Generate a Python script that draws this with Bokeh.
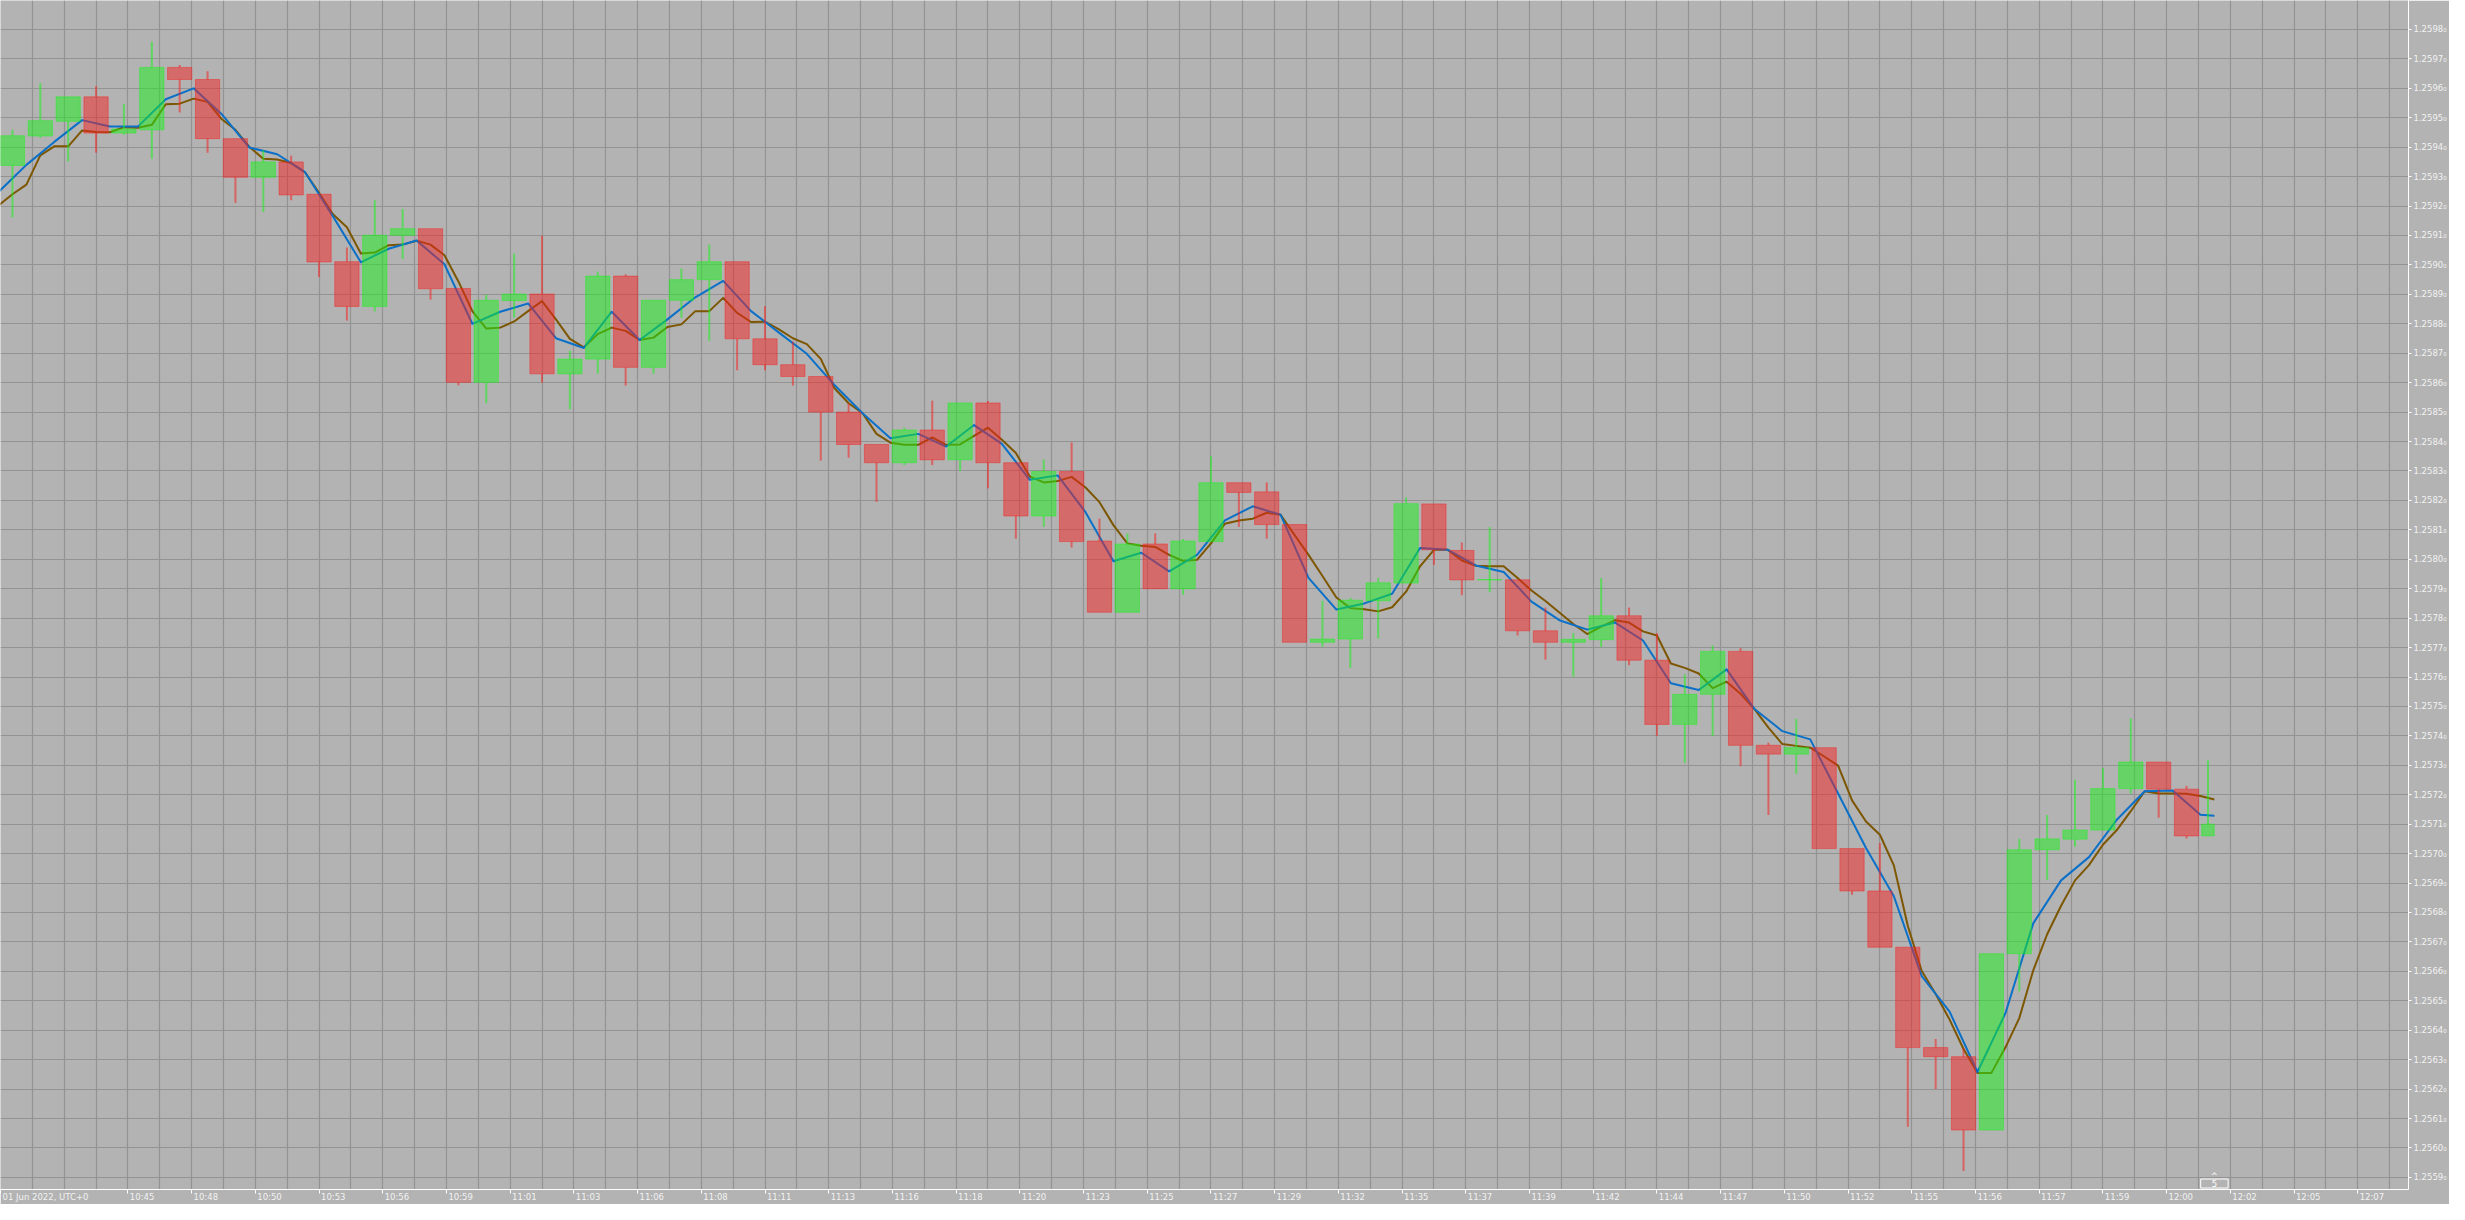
from bokeh.plotting import figure
from bokeh.models import (Range1d, LinearAxis, FixedTicker, CustomJSTickFormatter,
                          Grid, ColumnDataSource, Label)
from bokeh.embed import file_html
from bokeh.resources import INLINE

# ---------------- data (1-minute candles) ----------------
opens = [1.259338, 1.259438, 1.259488, 1.259571, 1.259448, 1.259459, 1.259671, 1.259630, 1.259429, 1.259298,
         1.259350, 1.259240, 1.259011, 1.258859, 1.259101, 1.259123, 1.258920, 1.258601, 1.258879, 1.258901,
         1.258630, 1.258680, 1.258962, 1.258652, 1.258880, 1.258950, 1.259011, 1.258749, 1.258661, 1.258621,
         1.258500, 1.258390, 1.258328, 1.258439, 1.258338, 1.258531, 1.258328, 1.258147, 1.258298, 1.258062,
         1.257820, 1.258052, 1.257900, 1.258060, 1.258260, 1.258229, 1.258118, 1.257718, 1.257729, 1.257859,
         1.257919, 1.258188, 1.258030, 1.257930, 1.257930, 1.257757, 1.257718, 1.257727, 1.257808, 1.257657,
         1.257439, 1.257541, 1.257687, 1.257368, 1.257338, 1.257360, 1.257017, 1.256873, 1.256682, 1.256341,
         1.256310, 1.256061, 1.256660, 1.257013, 1.257049, 1.257080, 1.257221, 1.257311, 1.257219, 1.257060]
highs = [1.259459, 1.259617, 1.259571, 1.259607, 1.259547, 1.259758, 1.259679, 1.259658, 1.259429, 1.259390,
         1.259371, 1.259240, 1.259059, 1.259220, 1.259190, 1.259123, 1.258920, 1.258899, 1.259038, 1.259099,
         1.258709, 1.258977, 1.258968, 1.258880, 1.258988, 1.259069, 1.259011, 1.258860, 1.258740, 1.258621,
         1.258530, 1.258390, 1.258447, 1.258539, 1.258531, 1.258538, 1.258328, 1.258339, 1.258397, 1.258138,
         1.258088, 1.258088, 1.258069, 1.258350, 1.258260, 1.258261, 1.258118, 1.257859, 1.257868, 1.257937,
         1.258210, 1.258188, 1.258057, 1.258109, 1.257930, 1.257836, 1.257749, 1.257936, 1.257836, 1.257749,
         1.257609, 1.257707, 1.257698, 1.257377, 1.257458, 1.257360, 1.257017, 1.257036, 1.256682, 1.256370,
         1.256339, 1.256660, 1.257050, 1.257131, 1.257251, 1.257291, 1.257459, 1.257311, 1.257230, 1.257317]
lows = [1.259161, 1.259432, 1.259351, 1.259381, 1.259442, 1.259361, 1.259518, 1.259381, 1.259210, 1.259180,
        1.259220, 1.258959, 1.258811, 1.258842, 1.259020, 1.258882, 1.258591, 1.258530, 1.258821, 1.258600,
        1.258510, 1.258630, 1.258590, 1.258630, 1.258821, 1.258742, 1.258642, 1.258642, 1.258590, 1.258335,
        1.258345, 1.258195, 1.258320, 1.258320, 1.258300, 1.258241, 1.258070, 1.258110, 1.258040, 1.257820,
        1.257820, 1.257900, 1.257879, 1.258060, 1.258110, 1.258070, 1.257718, 1.257703, 1.257631, 1.257731,
        1.257919, 1.257981, 1.257878, 1.257888, 1.257741, 1.257659, 1.257601, 1.257702, 1.257640, 1.257400,
        1.257308, 1.257400, 1.257297, 1.257131, 1.257271, 1.257017, 1.256860, 1.256682, 1.256072, 1.256200,
        1.255922, 1.256061, 1.256532, 1.256911, 1.257023, 1.257080, 1.257204, 1.257122, 1.257051, 1.257060]
closes = [1.259439, 1.259490, 1.259571, 1.259448, 1.259462, 1.259671, 1.259630, 1.259429, 1.259298, 1.259350,
          1.259238, 1.259010, 1.258859, 1.259101, 1.259123, 1.258919, 1.258601, 1.258880, 1.258901, 1.258630,
          1.258680, 1.258962, 1.258652, 1.258880, 1.258950, 1.259011, 1.258749, 1.258661, 1.258621, 1.258500,
          1.258390, 1.258328, 1.258439, 1.258338, 1.258531, 1.258328, 1.258147, 1.258298, 1.258060, 1.257820,
          1.258052, 1.257900, 1.258062, 1.258260, 1.258227, 1.258118, 1.257718, 1.257729, 1.257861, 1.257920,
          1.258189, 1.258032, 1.257930, 1.257931, 1.257757, 1.257718, 1.257728, 1.257808, 1.257657, 1.257439,
          1.257541, 1.257687, 1.257368, 1.257338, 1.257360, 1.257017, 1.256873, 1.256682, 1.256341, 1.256310,
          1.256061, 1.256660, 1.257013, 1.257050, 1.257080, 1.257221, 1.257311, 1.257219, 1.257060, 1.257100]

# fast moving average, sampled at each candle close (first sample = close of the candle before
# the view, last sample = current price inside the last candle)
ma_fast = [1.259248, 1.259340, 1.259418, 1.259492, 1.259470, 1.259470, 1.259563, 1.259600, 1.259513, 1.259399,
           1.259376, 1.259315, 1.259165, 1.259009, 1.259055, 1.259083, 1.259002, 1.258800, 1.258841, 1.258869,
           1.258751, 1.258718, 1.258841, 1.258745, 1.258815, 1.258890, 1.258946, 1.258843, 1.258770, 1.258698,
           1.258591, 1.258496, 1.258411, 1.258426, 1.258383, 1.258456, 1.258392, 1.258270, 1.258285, 1.258160,
           1.257993, 1.258022, 1.257959, 1.258015, 1.258132, 1.258180, 1.258151, 1.257937, 1.257829, 1.257850,
           1.257883, 1.258038, 1.258032, 1.257979, 1.257957, 1.257856, 1.257793, 1.257761, 1.257785, 1.257724,
           1.257579, 1.257556, 1.257626, 1.257491, 1.257416, 1.257388, 1.257204, 1.257019, 1.256855, 1.256584,
           1.256463, 1.256258, 1.256457, 1.256763, 1.256909, 1.256988, 1.257115, 1.257212, 1.257214, 1.257132,
           1.257129]
# slow moving average, sampled every half candle (candle close and mid-candle)
ma_slow = [1.259202, 1.259240, 1.259273, 1.259372, 1.259403, 1.259403, 1.259457, 1.259452, 1.259451, 1.259468,
           1.259466, 1.259476, 1.259546, 1.259548, 1.259565, 1.259554, 1.259496, 1.259459, 1.259401, 1.259361,
           1.259358, 1.259346, 1.259314, 1.259245, 1.259172, 1.259128, 1.259039, 1.259042, 1.259067, 1.259069,
           1.259082, 1.259069, 1.259033, 1.258944, 1.258843, 1.258784, 1.258787, 1.258808, 1.258843, 1.258877,
           1.258815, 1.258749, 1.258720, 1.258765, 1.258787, 1.258776, 1.258745, 1.258753, 1.258789, 1.258798,
           1.258843, 1.258843, 1.258888, 1.258837, 1.258806, 1.258807, 1.258781, 1.258751, 1.258731, 1.258681,
           1.258580, 1.258530, 1.258496, 1.258426, 1.258396, 1.258389, 1.258389, 1.258414, 1.258389, 1.258390,
           1.258419, 1.258447, 1.258406, 1.258361, 1.258281, 1.258261, 1.258266, 1.258280, 1.258244, 1.258194,
           1.258116, 1.258054, 1.258046, 1.258042, 1.258015, 1.257994, 1.257998, 1.258054, 1.258121, 1.258132,
           1.258138, 1.258158, 1.258151, 1.258082, 1.258015, 1.257943, 1.257870, 1.257834, 1.257830, 1.257823,
           1.257837, 1.257890, 1.257976, 1.258032, 1.258032, 1.257996, 1.257978, 1.257976, 1.257976, 1.257936,
           1.257894, 1.257858, 1.257819, 1.257780, 1.257746, 1.257771, 1.257793, 1.257785, 1.257755, 1.257741,
           1.257646, 1.257631, 1.257612, 1.257562, 1.257584, 1.257543, 1.257491, 1.257428, 1.257372, 1.257366,
           1.257360, 1.257330, 1.257299, 1.257181, 1.257109, 1.257064, 1.256960, 1.256755, 1.256601, 1.256523,
           1.256436, 1.256336, 1.256255, 1.256255, 1.256341, 1.256441, 1.256603, 1.256726, 1.256823, 1.256909,
           1.256961, 1.257030, 1.257080, 1.257144, 1.257212, 1.257204, 1.257204, 1.257203, 1.257196, 1.257184]

price_ticks = [1.2559, 1.2560, 1.2561, 1.2562, 1.2563, 1.2564, 1.2565, 1.2566, 1.2567, 1.2568,
               1.2569, 1.2570, 1.2571, 1.2572, 1.2573, 1.2574, 1.2575, 1.2576, 1.2577, 1.2578,
               1.2579, 1.2580, 1.2581, 1.2582, 1.2583, 1.2584, 1.2585, 1.2586, 1.2587, 1.2588,
               1.2589, 1.2590, 1.2591, 1.2592, 1.2593, 1.2594, 1.2595, 1.2596, 1.2597, 1.2598]

time_labels = ["01 Jun 2022, UTC+0", "10:45", "10:48", "10:50", "10:53", "10:56", "10:59", "11:01",
               "11:03", "11:06", "11:08", "11:11", "11:13", "11:16", "11:18", "11:20", "11:23", "11:25",
               "11:27", "11:29", "11:32", "11:35", "11:37", "11:39", "11:42", "11:44", "11:47", "11:50",
               "11:52", "11:55", "11:56", "11:57", "11:59", "12:00", "12:02", "12:05", "12:07"]
timeframe_label = "5"

# ---------------- layout constants ----------------
BG = "#b3b3b3"
GRID = "#939393"
UP = "#19f319"
DOWN = "#f52121"
FAST = "#0a70c8"
SLOW = "#7d5600"
FONT = "DejaVu Sans"
FSIZE = "8.5px"
CANDLE_PX = 28.0        # one candle slot in screen px of the reference
GRID_PX = 32.0          # vertical grid spacing in px
FIRST_PX = 12.0         # px of first candle centre from the left edge

N = len(opens)
cx = list(range(N))
fast_x = [k - 0.5 for k in range(len(ma_fast) - 1)] + [N - 1]
slow_x = [-0.5 + 0.5 * k for k in range(len(ma_slow))]

def px_to_x(px):
    return (px - FIRST_PX) / CANDLE_PX

p = figure(width=2449, height=1204, output_backend="svg", toolbar_location=None, tools="",
           x_range=Range1d(px_to_x(0), px_to_x(2419)),
           y_range=Range1d(1.2558588, 1.2598984),
           x_axis_location=None, y_axis_location=None,
           min_border_left=0, min_border_top=0, min_border_right=0, min_border_bottom=0,
           background_fill_color=BG, border_fill_color=BG, outline_line_color=None)
# drop the default grids (they use automatic tickers)
p.center = [r for r in p.center if not isinstance(r, Grid)]

# grid
xg = Grid(dimension=0, ticker=FixedTicker(ticks=[px_to_x(GRID_PX * k) for k in range(77)]),
          grid_line_color=GRID, grid_line_width=1.2)
yg = Grid(dimension=1, ticker=FixedTicker(ticks=price_ticks),
          grid_line_color=GRID, grid_line_width=1.2)
p.add_layout(xg)
p.add_layout(yg)

# moving averages (below the semi transparent candles)
p.line(slow_x, ma_slow, line_color=SLOW, line_width=2, line_join="round")
p.line(fast_x, ma_fast, line_color=FAST, line_width=2, line_join="round")

# candles
up = [c >= o for o, c in zip(opens, closes)]
colors = [UP if u else DOWN for u in up]
btop = [max(o, c) for o, c in zip(opens, closes)]
bbot = [min(o, c) for o, c in zip(opens, closes)]
xs = list(cx)
widths = [0.87] * N
xs[-1] = cx[-1] - 0.23      # current (forming) candle drawn narrower
widths[-1] = 0.45
src = ColumnDataSource(dict(x=xs, top=btop, bottom=bbot, high=highs, low=lows, color=colors, w=widths))

p.segment(x0="x", y0="top", x1="x", y1="high", source=src, line_color="color", line_width=2, line_alpha=0.55)
p.segment(x0="x", y0="low", x1="x", y1="bottom", source=src, line_color="color", line_width=2, line_alpha=0.55)
p.vbar(x="x", width="w", top="top", bottom="bottom", source=src,
       fill_color="color", fill_alpha=0.5, line_color="color", line_alpha=0.45, line_width=1)

# right price axis
yax = LinearAxis(ticker=FixedTicker(ticks=price_ticks),
                 formatter=CustomJSTickFormatter(code="return tick.toFixed(4) + '\u2080';"),
                 axis_line_color="white", axis_line_width=1,
                 major_tick_line_color="white", major_tick_out=3, major_tick_in=0,
                 minor_tick_line_color=None,
                 major_label_text_color="#f2f2f2", major_label_text_font=FONT,
                 major_label_text_font_size=FSIZE, major_label_standoff=2)
p.add_layout(yax, "right")

# bottom time axis: ticks on one axis, left-aligned labels on a second one
tick_slots = [0] + list(range(2, 38))
tick_pos = [px_to_x(64.0 * k) for k in tick_slots]

CW = {"0": .636, "1": .636, "2": .636, "3": .636, "4": .636, "5": .636, "6": .636, "7": .636,
      "8": .636, "9": .636, ":": .337, " ": .318, ",": .318, "+": .838, "J": .295, "u": .634,
      "n": .634, "U": .732, "T": .611, "C": .698}
def text_w(s, size=8.5):
    return sum(CW.get(ch, .6) for ch in s) * size

label_pos = [t + (2.0 + text_w(s) / 2.0) / CANDLE_PX for t, s in zip(tick_pos, time_labels)]

xa = LinearAxis(ticker=FixedTicker(ticks=tick_pos),
                formatter=CustomJSTickFormatter(code="return '';"),
                axis_line_color="white", axis_line_width=1,
                major_tick_line_color="white", major_tick_out=4, major_tick_in=0,
                minor_tick_line_color=None, major_label_standoff=0,
                major_label_text_font_size="1px")
xb = LinearAxis(ticker=FixedTicker(ticks=label_pos),
                formatter=CustomJSTickFormatter(args=dict(pos=label_pos, labels=time_labels), code="""
                    for (let i = 0; i < pos.length; i++) {
                        if (Math.abs(pos[i] - tick) < 1e-6) return labels[i];
                    }
                    return '';"""),
                axis_line_color=None, major_tick_line_color=None, minor_tick_line_color=None,
                major_tick_out=0, major_tick_in=0, major_label_standoff=-2,
                major_label_text_color="#f2f2f2", major_label_text_font=FONT,
                major_label_text_font_size=FSIZE)
p.add_layout(xa, "below")
p.add_layout(xb, "below")

# timeframe marker at the current candle (kept inside the frame)
lbl_kw = dict(x=N - 1, y=6, x_units="data", y_units="screen", text=timeframe_label,
              text_align="center", text_baseline="middle", text_color="white",
              text_font=FONT, text_font_size=FSIZE,
              background_fill_color=BG, border_line_color="white", border_line_width=1)
try:
    lbl = Label(padding=dict(left=11, right=11, top=1, bottom=1), **lbl_kw)
except Exception:
    try:
        lbl = Label(padding=(11, 1), **lbl_kw)
    except Exception:
        lbl = Label(**lbl_kw)
p.add_layout(lbl)
ptr = Label(x=N - 1, y=13, x_units="data", y_units="screen", text="^",
            text_align="center", text_baseline="middle", text_color="white",
            text_font=FONT, text_font_size="8px")
p.add_layout(ptr)

open("out.html", "w").write(file_html(p, INLINE))
